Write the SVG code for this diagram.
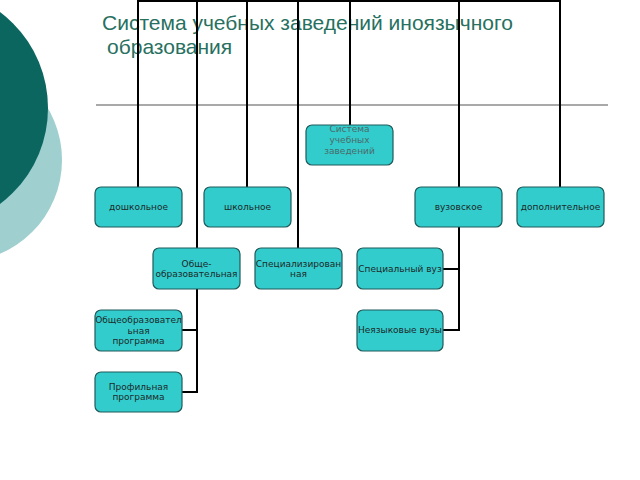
<svg xmlns="http://www.w3.org/2000/svg" width="640" height="480" viewBox="0 0 640 480">
<style>
.box{fill:#33cccc;stroke:#1f5a5a;stroke-width:1.2}
.t{font-family:"DejaVu Sans",Verdana,sans-serif;font-size:9px;fill:#1e2a2a;text-anchor:middle}
.ts{font-family:"DejaVu Sans",Verdana,sans-serif;font-size:9px;fill:#4a6a6a;text-anchor:middle}
.c{stroke:#000;stroke-width:2;fill:none}
</style>
<rect width="640" height="480" fill="#fff"/>
<circle cx="-40" cy="160" r="102" fill="#9fcfcf"/>
<circle cx="-72" cy="108" r="120" fill="#0b6660"/>
<g id="title" font-family="'Liberation Sans',Arial,sans-serif" font-size="21" fill="#28705f">
<text x="102" y="30">Система учебных заведений иноязычного</text>
<text x="107" y="54">образования</text>
</g>
<line x1="96" y1="105" x2="608" y2="105" stroke="#555" stroke-width="1.2"/>
<g id="connectors" class="c">
<line x1="138" y1="1" x2="560" y2="1"/>
<line x1="138" y1="0" x2="138" y2="187"/>
<line x1="197" y1="0" x2="197" y2="248"/>
<line x1="247" y1="0" x2="247" y2="187"/>
<line x1="298" y1="0" x2="298" y2="248"/>
<line x1="350" y1="0" x2="350" y2="125"/>
<line x1="459" y1="0" x2="459" y2="187"/>
<line x1="560" y1="0" x2="560" y2="187"/>
<polyline points="197,289 197,392 182,392"/>
<line x1="182" y1="330" x2="197" y2="330"/>
<polyline points="459,227 459,330 443,330"/>
<line x1="443" y1="269" x2="459" y2="269"/>
</g>
<g id="root"><rect class="box" x="306" y="125" width="87" height="40" rx="6"/>
<text class="ts" x="349.5" y="132">Система</text><text class="ts" x="349.5" y="143">учебных</text><text class="ts" x="349.5" y="154">заведений</text></g>
<g id="doshk"><rect class="box" x="95" y="187" width="87" height="40" rx="6"/><text class="t" x="138.5" y="210">дошкольное</text></g>
<g id="shk"><rect class="box" x="204" y="187" width="87" height="40" rx="6"/><text class="t" x="247.5" y="210">школьное</text></g>
<g id="vuz"><rect class="box" x="415" y="187" width="87" height="40" rx="6"/><text class="t" x="458.5" y="210">вузовское</text></g>
<g id="dop"><rect class="box" x="517" y="187" width="87" height="40" rx="6"/><text class="t" x="560.5" y="210">дополнительное</text></g>
<g id="obshe"><rect class="box" x="153" y="248" width="87" height="41" rx="6"/><text class="t" x="196.5" y="267">Обще-</text><text class="t" x="196.5" y="277">образовательная</text></g>
<g id="spec"><rect class="box" x="255" y="248" width="87" height="41" rx="6"/><text class="t" x="298.5" y="267">Специализирован</text><text class="t" x="298.5" y="277">ная</text></g>
<g id="specvuz"><rect class="box" x="357" y="248" width="86" height="41" rx="6"/><text class="t" x="400" y="272">Специальный вуз</text></g>
<g id="neyaz"><rect class="box" x="357" y="310" width="86" height="41" rx="6"/><text class="t" x="400" y="333">Неязыковые вузы</text></g>
<g id="obprog"><rect class="box" x="95" y="310" width="87" height="41" rx="6"/><text class="t" x="138.5" y="323">Общеобразовател</text><text class="t" x="138.5" y="334">ьная</text><text class="t" x="138.5" y="344">программа</text></g>
<g id="profprog"><rect class="box" x="95" y="372" width="87" height="40" rx="6"/><text class="t" x="138.5" y="390">Профильная</text><text class="t" x="138.5" y="400">программа</text></g>
</svg>
